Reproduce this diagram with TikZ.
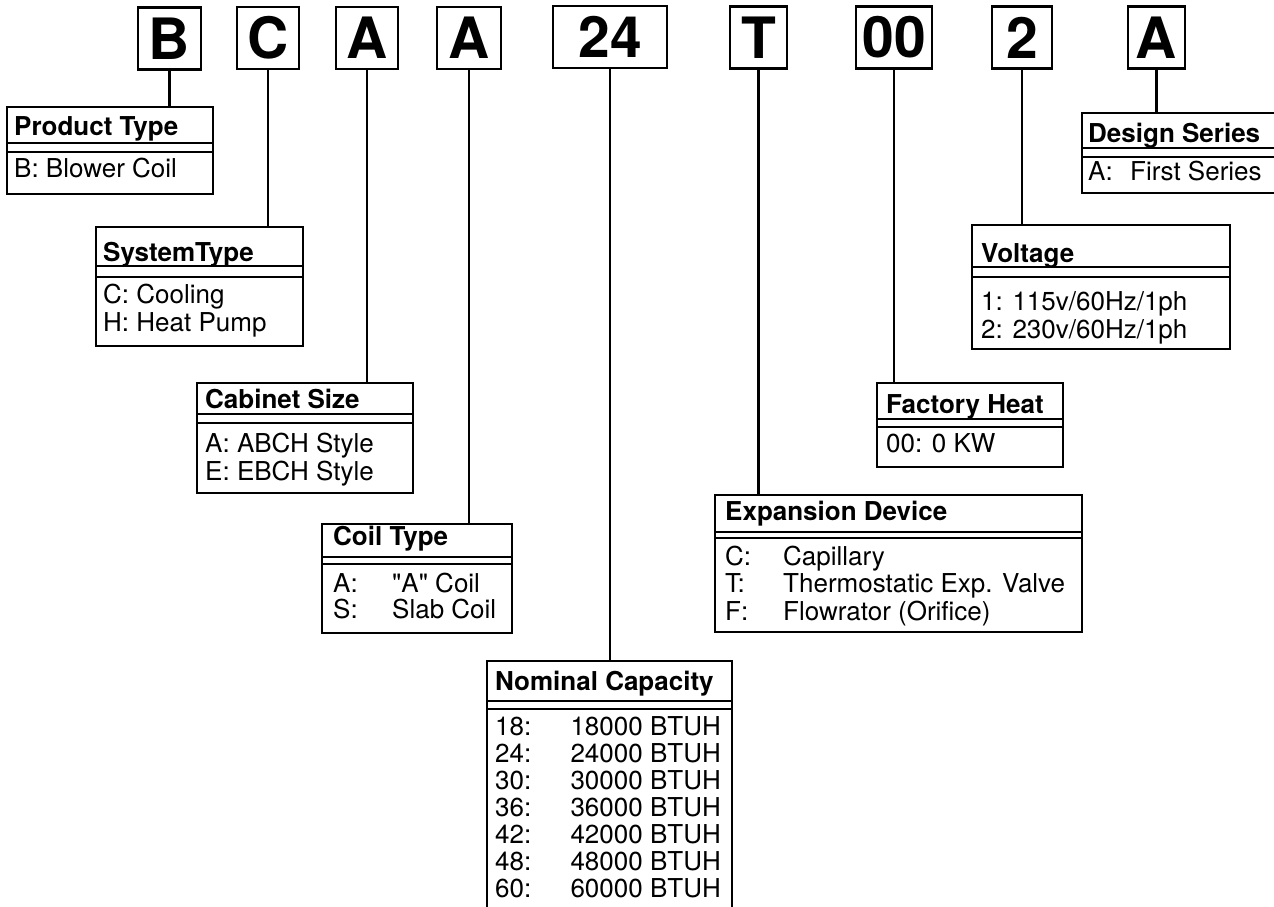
\documentclass[tikz,border=0pt]{standalone}
\usepackage{fontspec}
\setmainfont{TeX Gyre Heros}[Ligatures=TeXOff]

\begin{document}
\begin{tikzpicture}[x=1pt, y=-1pt,
    codebox/.style={draw, line width=2.6pt, inner sep=0pt, outer sep=0pt,
        minimum height=62, font=\bfseries\fontsize{57}{60}\selectfont},
    infobox/.style={draw, line width=2.8pt, inner sep=0pt, outer sep=0pt,
        anchor=north west},
    divline/.style={line width=2pt},
    stem/.style={line width=2.2pt},
    head/.style={anchor=base west, inner sep=0pt,
        font=\bfseries\fontsize{26}{28}\selectfont},
    body/.style={anchor=base west, inner sep=0pt,
        font=\fontsize{26}{28}\selectfont}]

    \useasboundingbox (0,0) rectangle (1274,907);

    % =================================================================
    % 1. MODEL NUMBER CODE LETTERS
    % =================================================================
    \node[codebox, minimum width=63]  (cB)   at (169.5,38.5) {B};
    \node[codebox, minimum width=62]  (cC)   at (268,38)     {C};
    \node[codebox, minimum width=62]  (cA)   at (367,38)     {A};
    \node[codebox, minimum width=64]  (cAA)  at (469,38)     {A};
    \node[codebox, minimum width=114] (c24)  at (610,37)     {24};
    \node[codebox, minimum width=57]  (cT)   at (758.5,37.5) {T};
    \node[codebox, minimum width=76]  (c00)  at (894,37.5)   {00};
    \node[codebox, minimum width=60]  (c2)   at (1022,37.5)  {2};
    \node[codebox, minimum width=57]  (cAS)  at (1156.5,37.5) {A};

    % =================================================================
    % 2. DESCRIPTION BOXES (outer frame)
    % =================================================================
    \node[infobox, minimum width=206, minimum height=87]  (ptype) at (7,107)    {};
    \node[infobox, minimum width=207, minimum height=119] (stype) at (96,227)   {};
    \node[infobox, minimum width=216, minimum height=110] (csize) at (197,383)  {};
    \node[infobox, minimum width=190, minimum height=109] (ctype) at (322,524)  {};
    \node[infobox, minimum width=245, minimum height=260] (ncap)  at (487,661)  {};
    \node[infobox, minimum width=367, minimum height=137] (edev)  at (715,495)  {};
    \node[infobox, minimum width=186, minimum height=84]  (fheat) at (877,383)  {};
    \node[infobox, minimum width=258, minimum height=124] (volt)  at (972,225)  {};
    \node[infobox, minimum width=210, minimum height=80]  (dser)  at (1082,113) {};

    % double rule under each heading
    \foreach \b/\ya/\yb in {ptype/143/152, stype/266/277, csize/414/423,
                             ctype/557/564, ncap/701/709, edev/532/538,
                             fheat/419/427, volt/267/277, dser/148/157} {
        \draw[divline] (\b.west |- 0,\ya) -- (\b.east |- 0,\ya);
        \draw[divline] (\b.west |- 0,\yb) -- (\b.east |- 0,\yb);
    }

    % =================================================================
    % 3. STEMS FROM CODE LETTERS DOWN TO THEIR BOXES
    % =================================================================
    \draw[stem] (cB.south)  -- (cB.south  |- ptype.north);
    \draw[stem] (cC.south)  -- (cC.south  |- stype.north);
    \draw[stem] (cA.south)  -- (cA.south  |- csize.north);
    \draw[stem] (cAA.south) -- (cAA.south |- ctype.north);
    \draw[stem] (c24.south) -- (c24.south |- ncap.north);
    \draw[stem] (cT.south)  -- (cT.south  |- edev.north);
    \draw[stem] (c00.south) -- (c00.south |- fheat.north);
    \draw[stem] (c2.south)  -- (c2.south  |- volt.north);
    \draw[stem] (cAS.south) -- (cAS.south |- dser.north);

    % =================================================================
    % 4. HEADINGS AND ENTRIES
    % =================================================================
    % Product Type
    \node[head] (ptypeH) at (14,135) {Product Type};
    \node[body] (ptypeB) at (14,177) {B: Blower Coil};

    % System Type
    \node[head] (stypeH) at (103,261) {SystemType};
    \node[body] (stypeC) at (103,303) {C: Cooling};
    \node[body] (stypeP) at (103,331) {H: Heat Pump};

    % Cabinet Size
    \node[head] (csizeH) at (205,408) {Cabinet Size};
    \node[body] (csizeA) at (205,452) {A: ABCH Style};
    \node[body] (csizeE) at (205,480) {E: EBCH Style};

    % Coil Type
    \node[head] (ctypeH)  at (333,545) {Coil Type};
    \node[body] (ctypeA)  at (333,592) {A:};
    \node[body] (ctypeAv) at (392,592) {"A" Coil};
    \node[body] (ctypeS)  at (333,618) {S:};
    \node[body] (ctypeSv) at (392,618) {Slab Coil};

    % Nominal Capacity
    \node[head] (ncapH) at (495,690) {Nominal Capacity};
    \foreach \c [count=\i from 0] in {18,24,30,36,42,48,60} {
        \node[body] (ncap\c) at (495,735+27*\i) {\c:};
        \node[body, anchor=base east] (ncapv\c) at (721,735+27*\i) {\c000 BTUH};
    }

    % Expansion Device
    \node[head] (edevH)  at (725,520) {Expansion Device};
    \node[body] (edevC)  at (725,565) {C:};
    \node[body] (edevCv) at (783,565) {Capillary};
    \node[body] (edevT)  at (725,592) {T:};
    \node[body] (edevTv) at (783,592) {Thermostatic Exp. Valve};
    \node[body] (edevF)  at (725,620) {F:};
    \node[body] (edevFv) at (783,620) {Flowrator (Orifice)};

    % Factory Heat
    \node[head] (fheatH) at (886,413) {Factory Heat};
    \node[body] (fheatB) at (886,452) {00: 0 KW};

    % Voltage
    \node[head] (voltH) at (981,262) {Voltage};
    \node[body] (volt1) at (981,310) {1: 115v/60Hz/1ph};
    \node[body] (volt2) at (981,338) {2: 230v/60Hz/1ph};

    % Design Series
    \node[head] (dserH)  at (1088,142) {Design Series};
    \node[body] (dserA)  at (1088,180) {A:};
    \node[body] (dserAv) at (1130,180) {First Series};

\end{tikzpicture}
\end{document}
